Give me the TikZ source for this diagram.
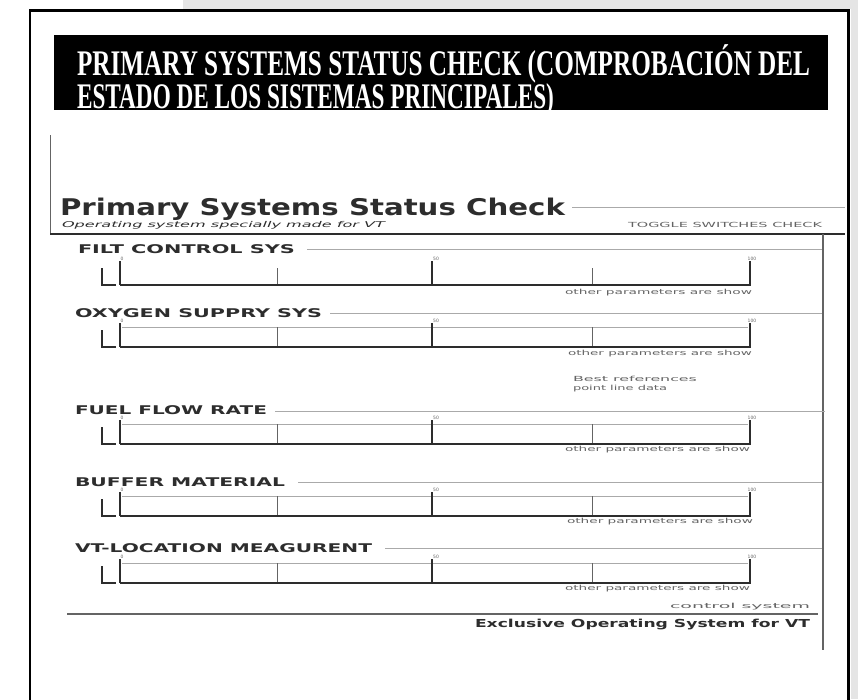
\documentclass[tikz,border=0pt]{standalone}
\usepackage{fontspec}
\usepackage{graphicx}
\usepackage{tikz}
\newfontfamily\titlefont{Liberation Serif}
\newfontfamily\panelfont{DejaVu Sans}
\definecolor{pagegray}{RGB}{229,229,229}
\definecolor{inkdark}{RGB}{45,45,45}
\definecolor{inkmid}{RGB}{100,100,100}
\definecolor{inklight}{RGB}{170,170,170}
\newcommand{\stretchto}[2]{\resizebox{#1}{\height}{#2}}

\begin{document}
\begin{tikzpicture}[x=1pt, y=-1pt, inner sep=0pt, outer sep=0pt,
    titleline/.style={anchor=base west, text=white, font=\titlefont\bfseries\fontsize{36}{36}\selectfont},
    sectionlabel/.style={anchor=west, text=inkdark, font=\panelfont\bfseries\fontsize{12}{12}\selectfont},
    smallnote/.style={anchor=west, text=inkmid, font=\panelfont\fontsize{7}{7}\selectfont},
    ticknum/.style={anchor=south, text=inkmid, font=\panelfont\fontsize{4.5}{4.5}\selectfont},
    scalebase/.style={draw=inkdark, line width=2pt},
    tickmajor/.style={draw=inkdark, line width=1.5pt},
    tickminor/.style={draw=inkmid, line width=0.9pt},
    tickend/.style={draw=inkdark, line width=2.6pt},
    rule/.style={draw=inklight, line width=0.8pt}]

    \useasboundingbox (0,0) rectangle (858,699);

    % Page
    \fill[white] (0,0) rectangle (858,699);
    \fill[pagegray] (183,0) rectangle (858,8.5);
    \fill[pagegray] (850.5,0) rectangle (858,699);
    \draw[black, line width=2.7pt] (30,702) -- (30,10.3) -- (848.5,10.3) -- (848.5,702);

    % Title bar
    \fill[black] (54,35) rectangle (828,110);
    \node[titleline] (title1) at (77,75) {\stretchto{733pt}{PRIMARY SYSTEMS STATUS CHECK (COMPROBACIÓN DEL}};
    \node[titleline] (title2) at (77,108) {\stretchto{477pt}{ESTADO DE LOS SISTEMAS PRINCIPALES)}};

    % Panel header
    \draw[inkmid, line width=0.9pt] (50,135) -- (50,234);
    \node[anchor=base west, text=inkdark, font=\panelfont\bfseries\fontsize{23}{23}\selectfont] (heading) at (60,215) {\stretchto{505pt}{Primary Systems Status Check}};
    \draw[rule] (572,207) -- (845,207);
    \node[anchor=base west, text=inkdark, font=\panelfont\itshape\fontsize{8}{8}\selectfont] (subhead) at (62,227) {\stretchto{323pt}{Operating system specially made for VT}};
    \node[anchor=base west, text=inkmid, font=\panelfont\fontsize{7}{7}\selectfont] (toggle) at (628,227) {\stretchto{194pt}{TOGGLE SWITCHES CHECK}};
    \draw[inkdark, line width=2.2pt] (50,234) -- (845,234);
    \draw[inkmid, line width=1.2pt] (823,234) -- (823,650);

    % Section 1
    \node[sectionlabel] (lab1) at (78,249) {\stretchto{217pt}{FILT CONTROL  SYS}};
    \draw[rule] (307,249) -- (822,249);
    \begin{scope}[shift={(0,285)}]
        \draw[tickmajor] (102,-17) |- (116,0) (120,-24) -- (120,0) (432,-24) -- (432,0);
        \draw[tickminor] (277,-17) -- (277,0) (592,-17) -- (592,0);
        \draw[scalebase] (120,0) -- (750,0);
        \draw[tickend] (750,-24) -- (750,1);
        \node[ticknum] (s1zero) at (122,-24.5) {0};
        \node[ticknum] (s1half) at (436,-24.5) {50};
        \node[ticknum] (s1full) at (752,-24.5) {100};
        \node[smallnote] (s1note) at (565,8) {\stretchto{187pt}{other parameters are show}};
    \end{scope}

    % Section 2
    \node[sectionlabel] (lab2) at (75,313) {\stretchto{247pt}{OXYGEN SUPPRY SYS}};
    \draw[rule] (330,313) -- (822,313);
    \begin{scope}[shift={(0,347)}]
        \draw[rule] (122,-20) -- (748,-20);
        \draw[tickmajor] (102,-17) |- (116,0) (120,-24) -- (120,0) (432,-24) -- (432,0);
        \draw[tickminor] (277,-20) -- (277,0) (592,-20) -- (592,0);
        \draw[scalebase] (120,0) -- (750,0);
        \draw[tickend] (750,-24) -- (750,1);
        \node[ticknum] (s2zero) at (122,-24.5) {0};
        \node[ticknum] (s2half) at (436,-24.5) {50};
        \node[ticknum] (s2full) at (752,-24.5) {100};
        \node[smallnote] (s2note) at (568,7) {\stretchto{184pt}{other parameters are show}};
    \end{scope}
    \node[smallnote] (mid1) at (573,378.5) {\stretchto{124pt}{Best references}};
    \node[smallnote] (mid2) at (573,388.5) {\stretchto{94pt}{point line data}};

    % Section 3
    \node[sectionlabel] (lab3) at (75,410.5) {\stretchto{192pt}{FUEL FLOW RATE}};
    \draw[rule] (275,411) -- (825,411);
    \begin{scope}[shift={(0,444)}]
        \draw[rule] (122,-20) -- (748,-20);
        \draw[tickmajor] (102,-17) |- (116,0) (120,-24) -- (120,0) (432,-24) -- (432,0);
        \draw[tickminor] (277,-20) -- (277,0) (592,-20) -- (592,0);
        \draw[scalebase] (120,0) -- (750,0);
        \draw[tickend] (750,-24) -- (750,1);
        \node[ticknum] (s3zero) at (122,-24.5) {0};
        \node[ticknum] (s3half) at (436,-24.5) {50};
        \node[ticknum] (s3full) at (752,-24.5) {100};
        \node[smallnote] (s3note) at (565,6) {\stretchto{185pt}{other parameters are show}};
    \end{scope}

    % Section 4
    \node[sectionlabel] (lab4) at (75,482) {\stretchto{210pt}{BUFFER MATERIAL}};
    \draw[rule] (298,482) -- (822,482);
    \begin{scope}[shift={(0,516)}]
        \draw[rule] (122,-20) -- (748,-20);
        \draw[tickmajor] (102,-17) |- (116,0) (120,-24) -- (120,0) (432,-24) -- (432,0);
        \draw[tickminor] (277,-20) -- (277,0) (592,-20) -- (592,0);
        \draw[scalebase] (120,0) -- (750,0);
        \draw[tickend] (750,-24) -- (750,1);
        \node[ticknum] (s4zero) at (122,-24.5) {0};
        \node[ticknum] (s4half) at (436,-24.5) {50};
        \node[ticknum] (s4full) at (752,-24.5) {100};
        \node[smallnote] (s4note) at (567,6) {\stretchto{186pt}{other parameters are show}};
    \end{scope}

    % Section 5
    \node[sectionlabel] (lab5) at (75,548) {\stretchto{297pt}{VT-LOCATION MEAGURENT}};
    \draw[rule] (385,548) -- (822,548);
    \begin{scope}[shift={(0,583)}]
        \draw[rule] (122,-20) -- (748,-20);
        \draw[tickmajor] (102,-17) |- (116,0) (120,-24) -- (120,0) (432,-24) -- (432,0);
        \draw[tickminor] (277,-20) -- (277,0) (592,-20) -- (592,0);
        \draw[scalebase] (120,0) -- (750,0);
        \draw[tickend] (750,-24) -- (750,1);
        \node[ticknum] (s5zero) at (122,-24.5) {0};
        \node[ticknum] (s5half) at (436,-24.5) {50};
        \node[ticknum] (s5full) at (752,-24.5) {100};
        \node[smallnote] (s5note) at (565,6) {\stretchto{185pt}{other parameters are show}};
    \end{scope}

    % Footer
    \node[smallnote] (ctrl) at (670,606.5) {\stretchto{140pt}{control system}};
    \draw[inkmid, line width=1.2pt] (67,614) -- (818,614);
    \node[anchor=base west, text=inkdark, font=\panelfont\bfseries\fontsize{11}{11}\selectfont] (footer) at (475,627) {\stretchto{335pt}{Exclusive Operating System for VT}};

\end{tikzpicture}
\end{document}
